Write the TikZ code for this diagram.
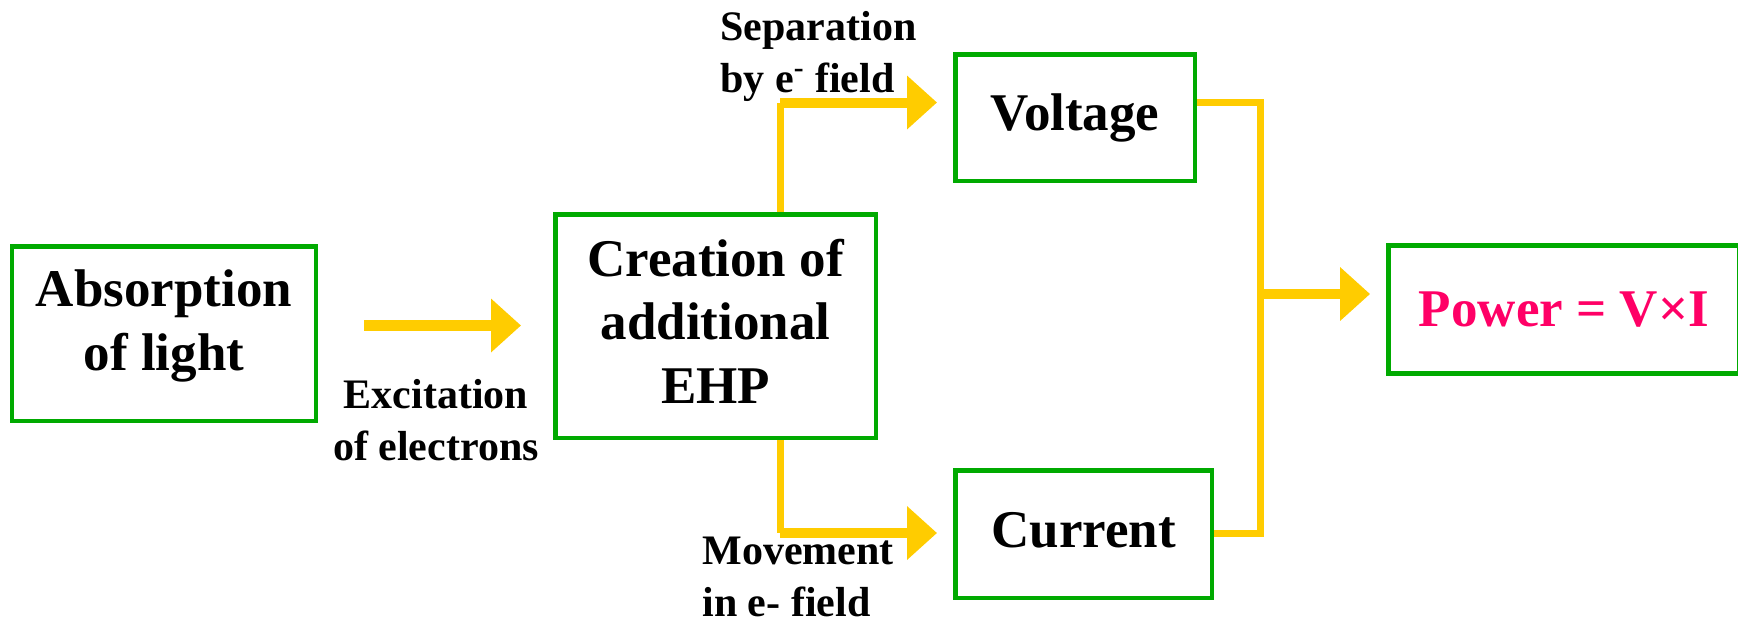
\documentclass[tikz,border=0pt]{standalone}
\usepackage{fontspec}
\setmainfont{Liberation Serif}
\usetikzlibrary{arrows.meta}
\definecolor{boxgreen}{RGB}{0,170,0}
\definecolor{arrowyellow}{RGB}{255,204,0}
\definecolor{powerpink}{RGB}{255,0,102}
\begin{document}
\begin{tikzpicture}[x=0.5pt,y=-0.5pt,
  box/.style={draw=boxgreen, line width=2.25pt, rectangle, inner sep=0pt, align=center,
    font=\fontsize{26.5}{31.75}\selectfont\bfseries},
  lbl/.style={inner sep=0pt, font=\fontsize{21}{26}\selectfont\bfseries},
  yline/.style={draw=arrowyellow, line width=3.5pt},
  yarrow/.style={draw=arrowyellow, fill=arrowyellow, line width=5pt,
    -{Triangle[length=15pt,width=26pt]}},
]
\useasboundingbox (0,0) rectangle (1738,623);

% boxes
\node[box, minimum width=152pt, minimum height=87.25pt, text depth=13.5pt] (abs) at (164,333.5) {Absorption\\of light};
\node[box, minimum width=160.25pt, minimum height=111.75pt, text depth=5pt] (cre) at (715.5,326) {Creation of\\additional\\EHP};
\node[box, minimum width=119.75pt, minimum height=63.25pt] (volt) at (1075,117.5) {Voltage};
\node[box, minimum width=128.25pt, minimum height=63.75pt, text depth=4pt] (cur) at (1083.5,534) {Current};
\node[box, minimum width=175.6pt, minimum height=64.1pt, text=powerpink] (pow) at (1563.9,309.6) {Power = V×I};

% helper coordinates
\coordinate (a1) at (364,325.5);
\coordinate (up) at (780,102.5);
\coordinate (dn) at (780,533);
\coordinate (rt) at (1260,102);
\coordinate (rb) at (1260,533);
\coordinate (m) at (1260,294);

% connectors
\draw[yarrow, line width=5.5pt, shorten >=16pt] (a1) -- (a1 -| cre.west);
\draw[yline] (up |- cre.north) -- (up);
\draw[yarrow, shorten >=8pt] (up) -- (up -| volt.west);
\draw[yline] (dn |- cre.south) -- (dn);
\draw[yarrow, shorten >=8pt] (dn) -- (dn -| cur.west);
\draw[yline] (rt -| volt.east) -- (rt) -- (rb) -- (rb -| cur.east);
\draw[yarrow, shorten >=8pt] (m) -- (m -| pow.west);

% labels
\node[lbl, anchor=north west, align=left] (sep) at (720,11) {Separation\\by e\textsuperscript{-} field};
\node[lbl, anchor=north, align=center] (exc) at (436,379) {Excitation\\of electrons};
\node[lbl, anchor=north west, align=left] (mov) at (702,537) {Movement\\in e- field};
\end{tikzpicture}
\end{document}
